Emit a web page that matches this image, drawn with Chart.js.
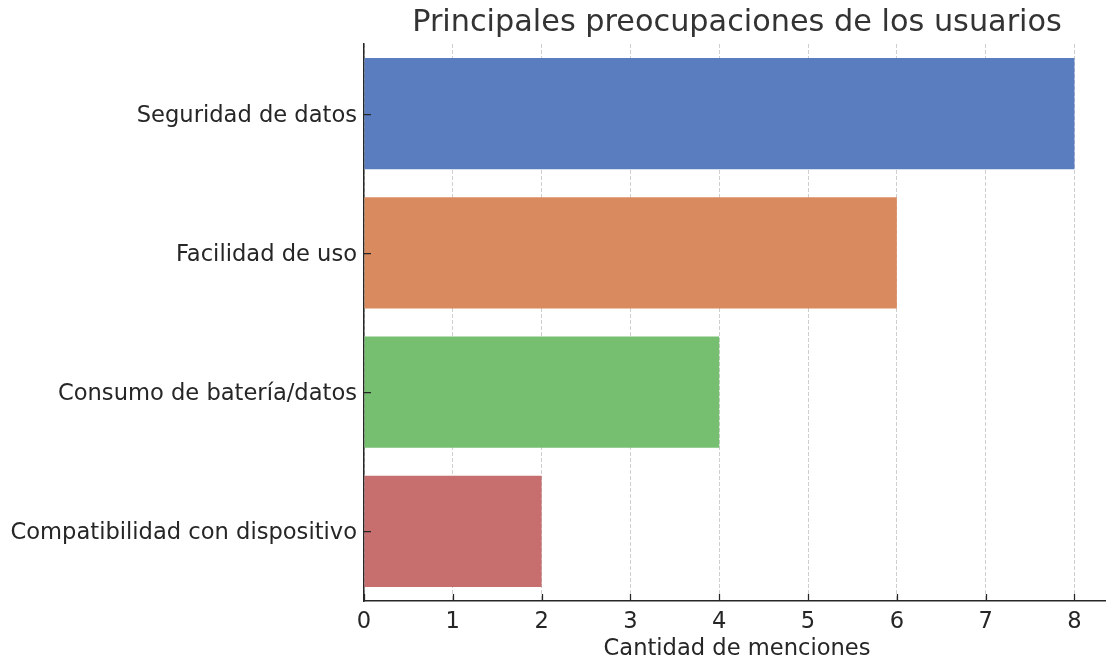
<!DOCTYPE html>
<html lang="es">
<head>
<meta charset="utf-8">
<title>Principales preocupaciones de los usuarios</title>
<script src="https://cdn.jsdelivr.net/npm/chart.js@4/dist/chart.umd.min.js"></script>
<style>
  html, body { margin: 0; padding: 0; background: #ffffff; overflow: hidden; }
  #wrap { width: 1106px; height: 660px; overflow: hidden; }
  canvas { display: block; }
</style>
</head>
<body>
<div id="wrap"><canvas id="chart" width="1110" height="660"></canvas></div>
<script>
// Categories and mention counts, top to bottom
const categories = [
  'Seguridad de datos',
  'Facilidad de uso',
  'Consumo de batería/datos',
  'Compatibilidad con dispositivo'
];
const mentions = [8, 6, 4, 2];
const barColors = ['#597dbf', '#d98b5f', '#76bf71', '#c76e6e'];
const xTickValues = [0, 1, 2, 3, 4, 5, 6, 7, 8];

const chartTitle = 'Principales preocupaciones de los usuarios';
const xAxisTitle = 'Cantidad de menciones';

const textColor = '#262626';
const fontFamily = '"DejaVu Sans", "Liberation Sans", sans-serif';

// Short tick marks pointing into the plot, drawn over the bars
const inwardTicks = {
  id: 'inwardTicks',
  afterDatasetsDraw(chart) {
    const { ctx, chartArea, scales } = chart;
    ctx.save();
    ctx.strokeStyle = textColor;
    ctx.lineWidth = 1.25;
    ctx.beginPath();
    xTickValues.forEach(v => {
      const x = Math.round(scales.x.getPixelForValue(v)) + 0.5;
      ctx.moveTo(x, chartArea.bottom);
      ctx.lineTo(x, chartArea.bottom - 7);
    });
    categories.forEach((c, i) => {
      const y = Math.round(scales.y.getPixelForValue(i)) + 0.5;
      ctx.moveTo(chartArea.left, y);
      ctx.lineTo(chartArea.left + 7, y);
    });
    ctx.stroke();
    ctx.restore();
  }
};

new Chart(document.getElementById('chart'), {
  type: 'bar',
  data: {
    labels: categories,
    datasets: [{
      data: mentions,
      backgroundColor: barColors,
      borderWidth: 0,
      barPercentage: 0.8,
      categoryPercentage: 1.0
    }]
  },
  options: {
    indexAxis: 'y',
    responsive: false,
    animation: false,
    layout: { padding: 0 },
    plugins: {
      legend: { display: false },
      tooltip: { enabled: false },
      title: {
        display: true,
        text: chartTitle,
        fullSize: false,
        color: '#333333',
        font: { family: fontFamily, size: 30.3, weight: 'normal', lineHeight: 1.2 },
        padding: { top: 4.5, bottom: 3.14 }
      }
    },
    scales: {
      x: {
        type: 'linear',
        min: 0,
        max: 8.4,
        afterFit(scale) { scale.height = 59; },
        afterBuildTicks(scale) { scale.ticks = xTickValues.map(v => ({ value: v })); },
        ticks: {
          color: textColor,
          padding: 8,
          font: { family: fontFamily, size: 22.6 }
        },
        grid: {
          drawTicks: false,
          color: 'rgba(185,185,185,0.7)',
          lineWidth: 1
        },
        border: { display: true, color: textColor, width: 1.5, dash: [4, 2] },
        title: {
          display: true,
          text: xAxisTitle,
          color: textColor,
          font: { family: fontFamily, size: 22.6, lineHeight: 1.0 },
          padding: { top: 0, bottom: 0 }
        }
      },
      y: {
        afterFit(scale) { scale.width = 364; },
        ticks: {
          color: textColor,
          padding: 7,
          labelOffset: 2,
          font: { family: fontFamily, size: 22.6 }
        },
        grid: { display: false, drawTicks: false },
        border: { display: true, color: textColor, width: 1.5 }
      }
    }
  },
  plugins: [inwardTicks]
});
</script>
</body>
</html>
